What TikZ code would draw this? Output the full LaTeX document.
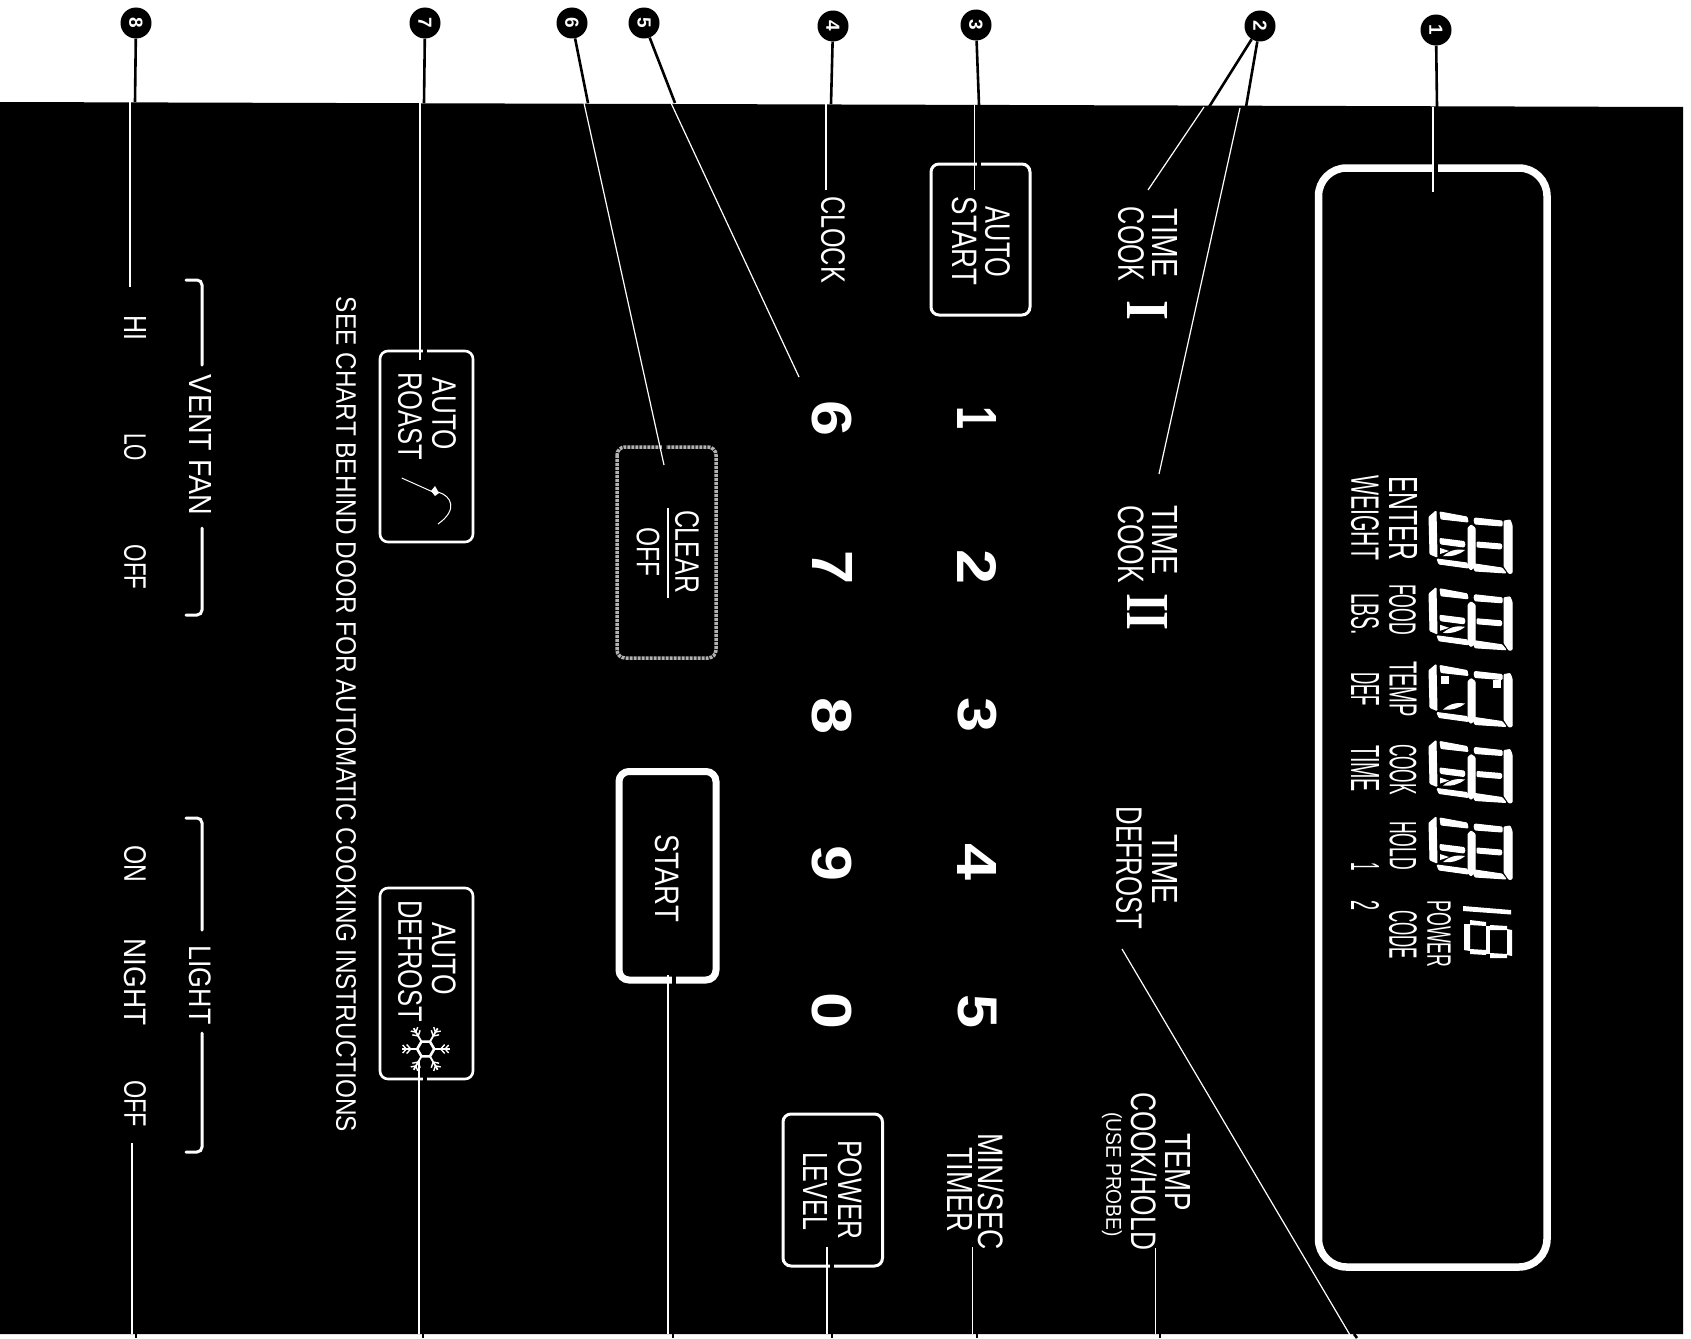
\documentclass[tikz,border=0pt]{standalone}
\usepackage{fontspec}
\setmainfont{Liberation Sans}
\newfontfamily\romanfam{Liberation Serif}
\tikzset{
  lbl/.style={inner sep=0pt,outer sep=0pt,rotate=-90,text=white},
  bubble/.style={circle,fill=black,minimum size=31pt,inner sep=0pt,text=white,font=\bfseries\fontsize{19}{19}\selectfont,rotate=-90},
  blk/.style={black,line width=2.6pt},
  wht/.style={white,line width=1.2pt},
  tick/.style={black,line width=2.6pt},
  frame/.style={white,line width=7.5pt,rounded corners=28pt},
  btn/.style={white,line width=3pt,rounded corners=8pt},
  gapmark/.style={black,line width=4.5pt},
  seg/.style={fill=white,draw=white,line width=1pt,rounded corners=0.8pt},
  thinseg/.style={fill=white},
}
\newcommand\lab[6]{\node[lbl] (#1) at (#2,#3) {\resizebox*{#4pt}{#5pt}{#6}};}
\newcommand\segs{%
  \path[seg] (0,6)--(7,0)--(8,46)--(1,43)--cycle;
  \path[seg] (39,17)--(42,14)--(46,17)--(46,55)--(42,59)--(39,56)--cycle;
  \path[seg] (75,10)--(81,9)--(83,14)--(83,62)--(80,62.5)--(75,55)--cycle;
  \path[seg] (11,1)--(38,6)--(39,11)--(12,8)--cycle;
  \path[seg] (45,9)--(46,7)--(73,10)--(73,15)--(46,13)--cycle;
  \path[seg] (8,48)--(38,52)--(39,57)--(10,53)--cycle;
  \path[seg] (44,55)--(46,53)--(73,57)--(77,62)--(46,60)--cycle;
  \fill[white] (14,45) .. controls (22,38) and (30,38) .. (36,39) .. controls (30,44) and (22,46) .. (14,45)--cycle;
}
\newcommand\centersegs{%
  \path[seg] (11,27.5)--(35,30.5)--(36,33)--(35,36)--(12,33)--(11,31)--cycle;
  \path[seg] (48,31)--(72,33)--(73,35)--(72,38)--(48,36)--cycle;
  \fill[white] (11,37)--(20,40)--(11,43)--cycle;
}
\begin{document}
\begin{tikzpicture}[x=1pt,y=-1pt]
\useasboundingbox (0,0) rectangle (1691,1338);
% panel
\fill[black] (0,102) -- (1683,107) -- (1683,1334) -- (0,1334) -- cycle;
% display frame
\draw[frame] (1318.5,168) rectangle (1547,1267);
% buttons
\draw[btn] (931,164) rectangle (1030,315);
\draw[btn] (783,1114) rectangle (882.5,1266);
\draw[btn,line width=7pt,rounded corners=10pt] (619,771.5) rectangle (716,980);
\draw[btn,white!70!black,densely dotted,line width=3.5pt] (617,447) rectangle (716,658);
\draw[btn,line width=2.6pt] (380,351) rectangle (473,542);
\draw[btn,line width=2.6pt] (380,888) rectangle (473,1079);
% brackets
\draw[white,line width=3pt,line cap=round,rounded corners=5pt] (186,280) -- (202,280) -- (202,365);
\draw[white,line width=3pt,line cap=round,rounded corners=5pt] (202,528) -- (202,615) -- (186,615);
\draw[white,line width=3pt,line cap=round,rounded corners=5pt] (186,818) -- (202,818) -- (202,930);
\draw[white,line width=3pt,line cap=round,rounded corners=5pt] (202,1033) -- (202,1152) -- (186,1152);
% bubbles
\node[bubble] (b1) at (1436,30) {1};
\node[bubble] (b2) at (1260,26) {2};
\node[bubble] (b3) at (976,25) {3};
\node[bubble] (b4) at (833,26) {4};
\node[bubble] (b5) at (644,23) {5};
\node[bubble] (b6) at (572,23) {6};
\node[bubble] (b7) at (425,23) {7};
\node[bubble] (b8) at (136,23) {8};
% connector coordinates
\coordinate (k1) at (1437,107); \coordinate (w1s) at (1433,107); \coordinate (w1e) at (1433,192);
\coordinate (k2a) at (1209,107); \coordinate (w2as) at (1204,107); \coordinate (w2ae) at (1148,190);
\coordinate (k2b) at (1246,107); \coordinate (w2bs) at (1240,108); \coordinate (w2be) at (1159,474);
\coordinate (k3) at (979,105); \coordinate (w3s) at (974.5,105); \coordinate (w3e) at (974.5,190);
\coordinate (k4) at (831,104); \coordinate (w4s) at (826,104); \coordinate (w4e) at (826,190);
\coordinate (k5) at (675,103); \coordinate (w5s) at (671,103); \coordinate (w5e) at (799,377);
\coordinate (k6) at (588,103); \coordinate (w6s) at (584,103); \coordinate (w6e) at (664,465);
\coordinate (k7) at (424,103); \coordinate (w7s) at (420,103); \coordinate (w7e) at (420,360);
\coordinate (k8) at (135,102); \coordinate (w8s) at (130,102); \coordinate (w8e) at (130,287);
% top connectors
\draw[blk] (b1) -- (k1); \draw[blk] (b2) -- (k2a); \draw[blk] (b2) -- (k2b);
\draw[blk] (b3) -- (k3); \draw[blk] (b4) -- (k4); \draw[blk] (b5) -- (k5);
\draw[blk] (b6) -- (k6); \draw[blk] (b7) -- (k7); \draw[blk] (b8) -- (k8);
% gaps in borders
\draw[gapmark] (1436,160) -- (1436,176);
\draw[gapmark] (979,159) -- (979,169);
\draw[gapmark] (425,346) -- (425,356);
\draw[gapmark] (664,441) -- (664,452);
\draw[gapmark] (425,1074) -- (425,1084);
\draw[gapmark] (674,974) -- (674,986);
\draw[gapmark] (832,1261) -- (832,1272);
% white continuations
\draw[wht] (w1s) -- (w1e); \draw[wht] (w2as) -- (w2ae); \draw[wht] (w2bs) -- (w2be);
\draw[wht] (w3s) -- (w3e); \draw[wht] (w4s) -- (w4e); \draw[wht] (w5s) -- (w5e);
\draw[wht] (w6s) -- (w6e); \draw[wht] (w7s) -- (w7e); \draw[wht] (w8s) -- (w8e);
% bottom connectors
\coordinate (c1) at (132,1143); \coordinate (d1) at (132,1334); \coordinate (e1) at (136,1334); \coordinate (f1) at (136,1338);
\coordinate (c2) at (419,1060); \coordinate (d2) at (419,1334); \coordinate (e2) at (423,1334); \coordinate (f2) at (423,1338);
\coordinate (c3) at (668,975); \coordinate (d3) at (668,1334); \coordinate (e3) at (673,1334); \coordinate (f3) at (673,1338);
\coordinate (c4) at (827,1247); \coordinate (d4) at (827,1334); \coordinate (e4) at (832,1334); \coordinate (f4) at (832,1338);
\coordinate (c5) at (972.5,1247); \coordinate (d5) at (972.5,1334); \coordinate (e5) at (977,1334); \coordinate (f5) at (977,1338);
\coordinate (c6) at (1155.5,1248); \coordinate (d6) at (1155.5,1334); \coordinate (e6) at (1160,1334); \coordinate (f6) at (1160,1338);
\coordinate (c7) at (1122,949); \coordinate (d7) at (1350,1335); \coordinate (e7) at (1354,1334); \coordinate (f7) at (1357,1338);
\foreach \i in {1,...,7} {\draw[wht] (c\i) -- (d\i); \draw[tick] (e\i) -- (f\i);}
% display digits
\foreach \oy in {511,587.8,740.5,817} {
  \begin{scope}[shift={(1429,\oy)}]\segs\centersegs\end{scope}
}
\begin{scope}[shift={(1429,664.5)}]\segs
  \fill[white] (12,11) rectangle (20,19);
  \fill[white] (64,15) rectangle (72,23);
\end{scope}
% small power digit
\fill[thinseg] (1463,906) -- (1511,910) -- (1511,914.5) -- (1463,911) -- cycle;
\fill[thinseg] (1464,924) -- (1470,924) -- (1470,951) -- (1464,950) -- cycle;
\fill[thinseg] (1507,929) -- (1512,930) -- (1512,956) -- (1507,955) -- cycle;
\fill[thinseg] (1486,926) -- (1490,926) -- (1490,954) -- (1486,954) -- cycle;
\fill[thinseg] (1470,920) -- (1486,922) -- (1486,926) -- (1470,925) -- cycle;
\fill[thinseg] (1490,925) -- (1507,926) -- (1507,930) -- (1490,930) -- cycle;
\fill[thinseg] (1470,949) -- (1486,950) -- (1486,955) -- (1470,954) -- cycle;
\fill[thinseg] (1490,953) -- (1507,954) -- (1507,958) -- (1490,958) -- cycle;
% display texts
\lab{tenter}{1403}{518}{84}{28}{ENTER}
\lab{tweight}{1365}{517.5}{85}{28}{WEIGHT}
\lab{tfood}{1402.5}{609.5}{51}{27}{FOOD}
\lab{tlbs}{1365}{614}{42}{28}{LBS.}
\lab{ttemp}{1403}{689}{56}{27}{TEMP}
\lab{tdef}{1365}{689}{34}{28}{DEF}
\lab{tcook}{1403}{769.5}{51}{27}{COOK}
\lab{ttime}{1365}{768.5}{47}{28}{TIME}
\lab{thold}{1403}{845.5}{49}{27}{HOLD}
\lab{tone}{1365}{867}{8.5}{28}{1}
\lab{ttwo}{1365}{905}{10}{28}{2}
\lab{tcode}{1403}{934.5}{49}{28}{CODE}
\lab{tpower}{1439}{934}{67}{24}{POWER}
% keys
\lab{aa}{997.5}{242}{70}{25}{AUTO}
\lab{as}{964.5}{241}{88}{25}{START}
\lab{clk}{833}{239.5}{87}{24}{CLOCK}
\lab{t1}{1165}{243}{68}{25}{TIME}
\lab{c1t}{1131}{244}{74}{26}{COOK}
\lab{r1}{1147}{310}{20}{40}{\romanfam\bfseries I}
\lab{t2}{1165}{540}{69}{25}{TIME}
\lab{c2t}{1131}{544}{78}{26}{COOK}
\lab{r2}{1147}{612}{38}{40}{\romanfam\bfseries II}
\lab{t3}{1165}{869}{70}{25}{TIME}
\lab{dfr}{1129}{868}{123}{26}{DEFROST}
\lab{tt}{1178}{1172}{77}{25}{TEMP}
\lab{ch}{1144}{1171}{158}{26}{COOK/HOLD}
\lab{up}{1112}{1174.5}{125}{20}{(USE PROBE)}
\lab{ms}{991}{1191.5}{117}{26}{MIN/SEC}
\lab{tm}{960}{1189.5}{85}{25}{TIMER}
\lab{pw}{850}{1190}{99}{24}{POWER}
\lab{lv}{815}{1191}{78}{24}{LEVEL}
\lab{st}{667}{878}{88}{24}{START}
\lab{cl}{687}{551.5}{83}{24}{CLEAR}
\lab{of}{648}{552}{49}{23}{OFF}
\draw[white,line width=1.3pt] (668,508) -- (668,598);
\lab{ara}{444}{414}{72}{24}{AUTO}
\lab{arr}{410}{416}{88}{24}{ROAST}
\lab{ada}{444}{958.5}{73}{24}{AUTO}
\lab{add}{410}{961}{122}{24}{DEFROST}
\lab{see}{346}{714.5}{835}{20}{SEE CHART BEHIND DOOR FOR AUTOMATIC COOKING INSTRUCTIONS}
\lab{vf}{200.5}{445}{140}{22}{VENT FAN}
\lab{li}{200.5}{985}{79}{22}{LIGHT}
\lab{hi}{135}{328}{25}{22}{HI}
\lab{lo}{135}{447}{28}{22}{LO}
\lab{off1}{135}{567}{45}{22}{OFF}
\lab{on}{135}{864}{37}{22}{ON}
\lab{ni}{135}{982}{87}{22}{NIGHT}
\lab{off2}{135}{1103.5}{47}{22}{OFF}
% number keys
\foreach \t/\yy/\ww in {1/418/23,2/567/35,3/715/35,4/862/37,5/1011/34} {
  \node[lbl] (n\t) at (977,\yy) {\resizebox*{\ww pt}{39pt}{\bfseries\t}};
}
\foreach \t/\yy/\ww in {6/419/36,7/568/34,8/716/37,9/863/36,0/1011/37} {
  \node[lbl] (n\t) at (832,\yy) {\resizebox*{\ww pt}{40pt}{\bfseries\t}};
}
% roast probe icon
\draw[white,line width=1pt] (401.7,478) -- (433,492);
\fill[white] (431,491) -- (435,486) -- (439,493) -- (435,496) -- cycle;
\draw[white,line width=1pt] (438,492) .. controls (452,496) and (458,510) .. (438,524);
% snowflake icon
\begin{scope}[shift={(425.7,1049)}]
  \draw[white,line width=2.6pt] (0:8.5) -- (60:8.5) -- (120:8.5) -- (180:8.5) -- (240:8.5) -- (300:8.5) -- cycle;
  \foreach \a in {0,60,...,300} {
    \begin{scope}[rotate=\a]
      \draw[white,line width=1.8pt] (8.5,0) -- (24,0);
      \draw[white,line width=1.4pt] (19,-4.5) -- (15,0) -- (19,4.5);
      \draw[white,line width=1.4pt] (23,-4) -- (19.5,0) -- (23,4);
    \end{scope}
  }
\end{scope}
\end{tikzpicture}
\end{document}
